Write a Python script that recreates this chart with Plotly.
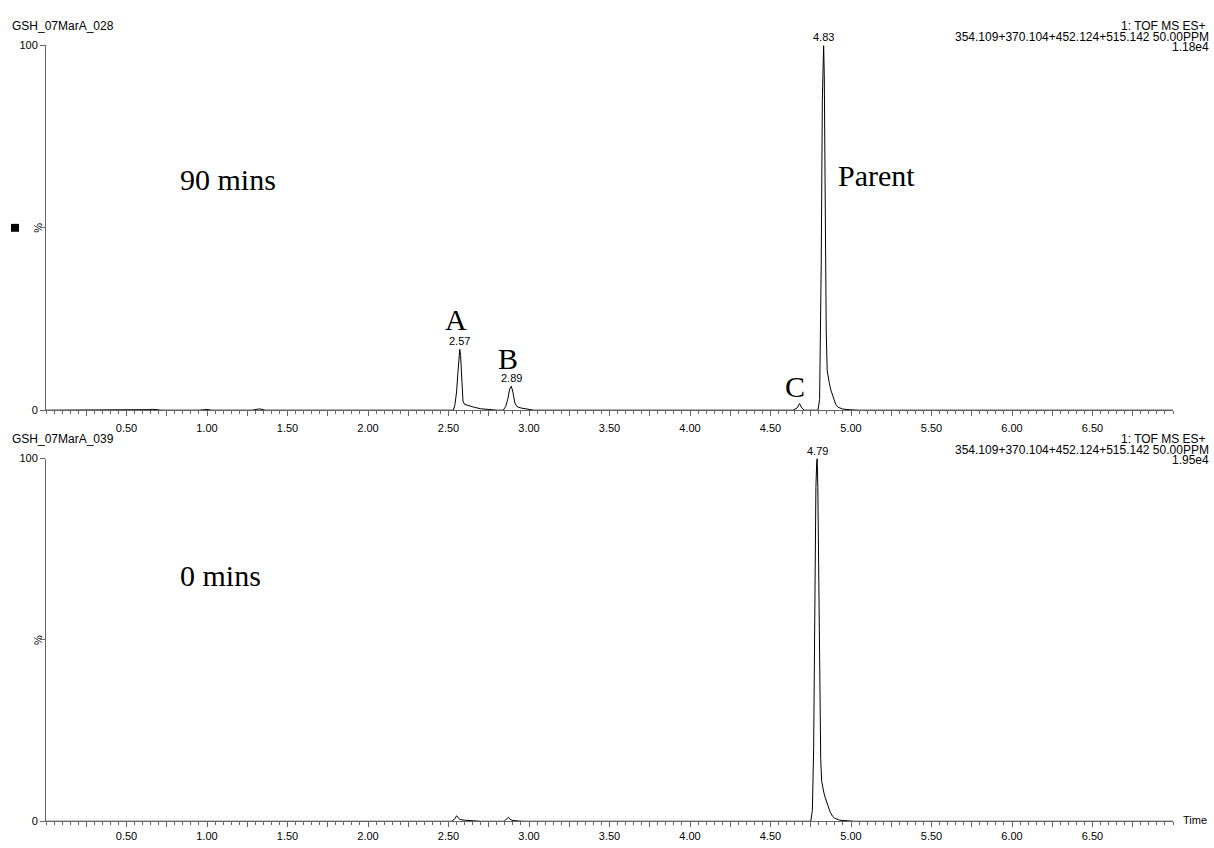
import plotly.graph_objects as go

# ---------------- data ----------------
# 90 min sample (GSH_07MarA_028) : retention time (min) vs relative intensity (%)
time_90 = [0.00, 0.60, 0.64, 0.66, 0.68, 0.72, 0.95, 0.98, 1.00, 1.03, 1.28, 1.31, 1.33, 1.36,
           2.50, 2.530, 2.540, 2.550, 2.558, 2.565, 2.570, 2.575, 2.582, 2.590, 2.600, 2.630,
           2.660, 2.700, 2.750, 2.800, 2.840, 2.855, 2.868, 2.880, 2.890, 2.900, 2.912, 2.925,
           2.950, 2.980, 3.030, 4.640, 4.665, 4.680, 4.695, 4.710, 4.795, 4.805, 4.815, 4.822,
           4.827, 4.830, 4.834, 4.840, 4.846, 4.852, 4.858, 4.865, 4.875, 4.885, 4.895, 4.905,
           4.920, 4.950, 5.000, 5.050, 7.00]
int_90 = [0.0, 0.0, 0.15, 0.25, 0.15, 0.0, 0.0, 0.12, 0.2, 0.0, 0.0, 0.25, 0.35, 0.0,
          0.0, 0.0, 1.5, 5.0, 10.0, 15.0, 16.7, 15.0, 8.0, 2.5, 1.6, 1.1,
          0.8, 0.4, 0.1, 0.0, 0.0, 1.0, 3.0, 5.8, 6.6, 5.0, 2.0, 1.0,
          0.6, 0.3, 0.0, 0.0, 0.6, 1.8, 0.6, 0.0, 0.0, 3.0, 40.0, 85.0,
          99.0, 100.0, 92.0, 55.0, 22.0, 11.0, 9.0, 7.5, 5.5, 4.0, 2.6, 1.6,
          0.8, 0.3, 0.1, 0.0, 0.0]

# 0 min sample (GSH_07MarA_039)
time_0 = [0.00, 2.52, 2.54, 2.55, 2.56, 2.57, 2.60, 2.65, 2.70, 2.845, 2.860, 2.872, 2.882,
          2.895, 2.930, 2.970, 4.750, 4.760, 4.768, 4.775, 4.782, 4.787, 4.790, 4.794, 4.800,
          4.806, 4.812, 4.818, 4.825, 4.832, 4.840, 4.850, 4.860, 4.870, 4.885, 4.900, 4.930,
          4.970, 5.020, 7.00]
int_0 = [0.0, 0.0, 0.7, 1.5, 1.1, 0.5, 0.3, 0.15, 0.0, 0.0, 0.6, 1.1, 0.6,
         0.25, 0.1, 0.0, 0.0, 3.0, 20.0, 60.0, 92.0, 99.0, 100.0, 92.0, 60.0,
         30.0, 17.0, 11.0, 9.0, 7.8, 6.5, 5.0, 3.8, 2.6, 1.4, 0.8, 0.3,
         0.1, 0.0, 0.0]

x_tick_values = [0.25, 0.50, 0.75, 1.00, 1.25, 1.50, 1.75, 2.00, 2.25, 2.50, 2.75, 3.00, 3.25, 3.50,
                 3.75, 4.00, 4.25, 4.50, 4.75, 5.00, 5.25, 5.50, 5.75, 6.00, 6.25, 6.50, 6.75]
x_tick_labels = ["", "0.50", "", "1.00", "", "1.50", "", "2.00", "", "2.50", "", "3.00", "", "3.50",
                 "", "4.00", "", "4.50", "", "5.00", "", "5.50", "", "6.00", "", "6.50", ""]
y_tick_values = [0, 50, 100]
y_tick_labels = ["0", "", "100"]

peak_labels_90 = [(2.57, 16.7, "2.57"), (2.89, 6.6, "2.89"), (4.83, 100.0, "4.83")]
peak_labels_0 = [(4.79, 100.0, "4.79")]

file_names = ["GSH_07MarA_028", "GSH_07MarA_039"]
scan_desc = ["1: TOF MS ES+\u00a0", "354.109+370.104+452.124+515.142 50.00PPM"]
intensity_max = ["1.18e4", "1.95e4"]

# ---------------- layout helpers ----------------
W, H = 1214, 848
SANS = "Liberation Sans, Arial, sans-serif"
SERIF = "Liberation Serif, Times New Roman, serif"
AX = "#666666"

def px(x):
    return x / W

def py(y):
    return 1 - y / H

fig = go.Figure()
fig.add_trace(go.Scatter(x=time_90, y=int_90, mode="lines", line=dict(color="black", width=1),
                         xaxis="x", yaxis="y", showlegend=False, hoverinfo="skip"))
fig.add_trace(go.Scatter(x=time_0, y=int_0, mode="lines", line=dict(color="black", width=1),
                         xaxis="x2", yaxis="y2", showlegend=False, hoverinfo="skip"))

def xaxis_cfg(anchor, standoff):
    return dict(domain=[px(46), px(1173)], range=[0, 7.0], anchor=anchor,
                showline=True, linecolor=AX, linewidth=1, showgrid=False, zeroline=False,
                tickmode="array", tickvals=x_tick_values, ticktext=x_tick_labels,
                ticks="outside", ticklen=5, tickwidth=1, tickcolor=AX,
                ticklabelstandoff=standoff,
                minor=dict(tickmode="linear", tick0=0, dtick=0.05, ticks="outside",
                           ticklen=3, tickwidth=1, tickcolor=AX, showgrid=False),
                tickfont=dict(family=SANS, size=11, color="black"))

def yaxis_cfg(anchor, top, bottom):
    return dict(domain=[py(bottom), py(top)], range=[0, 100], anchor=anchor,
                showline=True, linecolor=AX, linewidth=1, showgrid=False, zeroline=False,
                tickmode="array", tickvals=y_tick_values, ticktext=y_tick_labels,
                ticks="outside", ticklen=5, tickwidth=1, tickcolor=AX,
                tickfont=dict(family=SANS, size=11, color="black"))

fig.update_layout(
    width=W, height=H, margin=dict(l=0, r=0, t=0, b=0),
    paper_bgcolor="white", plot_bgcolor="white", showlegend=False,
    xaxis=xaxis_cfg("y", 3),
    yaxis=yaxis_cfg("x", 40, 410),
    xaxis2=xaxis_cfg("y2", 0),
    yaxis2=yaxis_cfg("x2", 459, 827),
)

ann = []
def text(x, y, s, size=12, family=SANS, xanchor="left", angle=0):
    ann.append(dict(x=px(x), y=py(y), xref="paper", yref="paper", text=s, showarrow=False,
                    xanchor=xanchor, yanchor="middle", textangle=angle,
                    font=dict(family=family, size=size, color="black")))

# headers
for top, fname, imax in [(40, file_names[0], intensity_max[0]), (459, file_names[1], intensity_max[1])]:
    text(10, top - 20, fname)
    text(1211, top - 19.5, scan_desc[0], xanchor="right")
    text(1211, top - 9, scan_desc[1], xanchor="right")
    text(1211, top + 1.5, imax, xanchor="right")
    text(38, (top + (410 if top == 40 else 827)) / 2, "%", size=11, xanchor="center", angle=-90)

text(1181, 826, "Time", size=11)

# big annotations
text(178, 176, "90 mins", size=30, family=SERIF)
text(836, 172, "Parent", size=30, family=SERIF)
text(178, 578, "0 mins", size=30, family=SERIF)
text(456, 318, "A", size=30, family=SERIF, xanchor="center")
text(508, 358, "B", size=30, family=SERIF, xanchor="center")
text(795, 386, "C", size=30, family=SERIF, xanchor="center")

# peak retention-time labels tied to data
for (xr, yr, lab) in peak_labels_90:
    ann.append(dict(x=xr, y=yr, xref="x", yref="y", text=lab, showarrow=False,
                    xanchor="center", yanchor="bottom", yshift=0,
                    font=dict(family=SANS, size=11, color="black")))
for (xr, yr, lab) in peak_labels_0:
    ann.append(dict(x=xr, y=yr, xref="x2", yref="y2", text=lab, showarrow=False,
                    xanchor="center", yanchor="bottom", yshift=0,
                    font=dict(family=SANS, size=11, color="black")))

fig.update_layout(annotations=ann)

# small black square marker at left of top panel
fig.add_shape(type="rect", xref="paper", yref="paper", x0=px(11), x1=px(19), y0=py(229), y1=py(221),
              fillcolor="black", line=dict(width=0))

fig.write_html("out.html")
